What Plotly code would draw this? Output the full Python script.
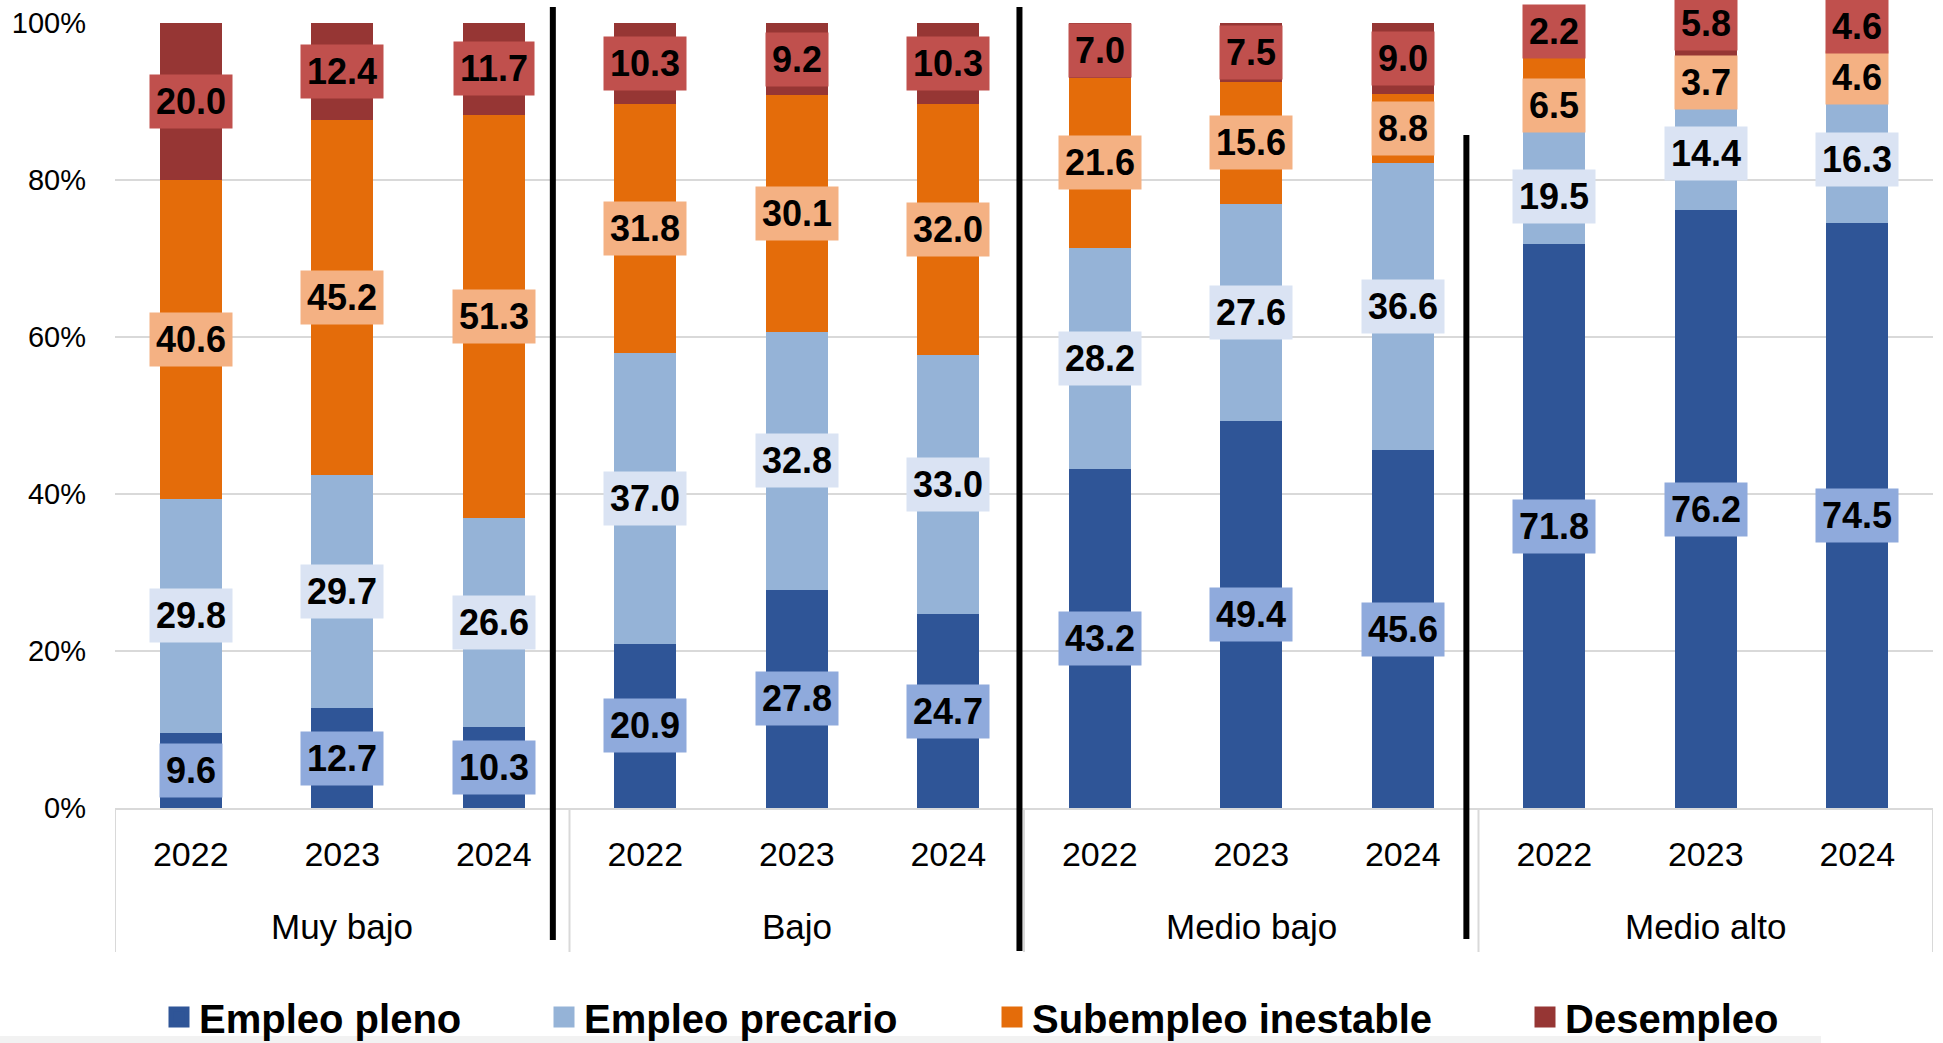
import plotly.graph_objects as go

# ---------------- data ----------------
groups = ["Muy bajo", "Bajo", "Medio bajo", "Medio alto"]
years = ["2022", "2023", "2024"]
series_names = ["Empleo pleno", "Empleo precario", "Subempleo inestable", "Desempleo"]
empleo_pleno = [9.6, 12.7, 10.3, 20.9, 27.8, 24.7, 43.2, 49.4, 45.6, 71.8, 76.2, 74.5]
empleo_precario = [29.8, 29.7, 26.6, 37.0, 32.8, 33.0, 28.2, 27.6, 36.6, 19.5, 14.4, 16.3]
subempleo_inestable = [40.6, 45.2, 51.3, 31.8, 30.1, 32.0, 21.6, 15.6, 8.8, 6.5, 3.7, 4.6]
desempleo = [20.0, 12.4, 11.7, 10.3, 9.2, 10.3, 7.0, 7.5, 9.0, 2.2, 5.8, 4.6]
y_tick_values = [0, 20, 40, 60, 80, 100]
y_tick_labels = ["0%", "20%", "40%", "60%", "80%", "100%"]

# ---------------- styles ----------------
series_values = [empleo_pleno, empleo_precario, subempleo_inestable, desempleo]
bar_colors = ["#2F5597", "#95B3D7", "#E46C0A", "#963634"]
label_bg = ["#8FAADC", "#DAE3F3", "#F4B183", "#C0504D"]
FONT = "Liberation Sans, Arial, sans-serif"

# manual label nudges (in percentage points), as placed in the original
label_nudge = {(2, 9): -5.1, (1, 9): -3.6, (3, 10): 2.8, (3, 11): 1.9}

W, H = 1943, 1043
ML, MR, MT, MB = 115, 10, 23, 235
PW, PH = W - ML - MR, H - MT - MB
y_bottom_px = H - MB


def py(px):
    """pixel y -> paper y"""
    return (y_bottom_px - px) / PH


def px_x(px):
    """pixel x -> paper x"""
    return (px - ML) / PW


keys = [f"{g}|{y}" for g in groups for y in years]
n_bars = len(keys)

fig = go.Figure()
for s, (name, vals) in enumerate(zip(series_names, series_values)):
    fig.add_trace(go.Bar(
        x=keys, y=vals, name=name,
        marker=dict(color=bar_colors[s], line=dict(width=0)),
        showlegend=False, hoverinfo="skip",
    ))

# legend swatches (separate legends to place items like the original)
legend_px = [159, 544, 992, 1525]
for s, name in enumerate(series_names):
    lg = "legend" if s == 0 else f"legend{s + 1}"
    fig.add_trace(go.Scatter(
        x=[None], y=[None], mode="markers", name=name,
        marker=dict(symbol="square", size=16, color=bar_colors[s],
                    line=dict(width=5, color=bar_colors[s])),
        legend=lg, showlegend=True,
    ))

annotations = []
# data labels at segment centres
totals = [sum(series_values[s][i] for s in range(4)) for i in range(n_bars)]
for i in range(n_bars):
    cum = 0.0
    for s in range(4):
        v = series_values[s][i]
        centre = (cum + v / 2) / totals[i] * 100 + label_nudge.get((s, i), 0)
        cum += v
        annotations.append(dict(
            x=keys[i], y=min(centre, 99.9), xref="x", yref="y",
            text=f"{v:.1f}", showarrow=False,
            font=dict(family=FONT, size=36, color="black", weight="bold"),
            bgcolor=label_bg[s], borderpad=6,
        ))

# group labels
for g_i, g in enumerate(groups):
    annotations.append(dict(
        x=keys[g_i * 3 + 1], y=py(926), xref="x", yref="paper",
        text=g, showarrow=False, yanchor="middle",
        font=dict(family=FONT, size=35, color="black"),
    ))

shapes = []
# gray dividers of the category axis
for b in range(len(groups) + 1):
    xpos = b * 3 - 0.5
    shapes.append(dict(type="line", xref="x", yref="paper",
                       x0=xpos, x1=xpos, y0=0, y1=py(952),
                       line=dict(color="#D9D9D9", width=2)))
# black separators
seps = [(2.39, 7, 940), (5.47, 7, 951), (8.42, 135, 939)]
for xpos, top, bot in seps:
    shapes.append(dict(type="line", xref="x", yref="paper",
                       x0=xpos, x1=xpos, y0=py(top), y1=py(bot),
                       line=dict(color="black", width=6)))
# light band at the bottom
shapes.append(dict(type="rect", xref="paper", yref="paper",
                   x0=px_x(0), x1=px_x(1821), y0=py(1036), y1=py(1050),
                   fillcolor="#F2F2F2", line=dict(width=0), layer="below"))

legend_common = dict(
    orientation="h", yref="container", y=1 - 1017 / H, yanchor="middle",
    xref="container", xanchor="left", itemsizing="trace",
    bgcolor="rgba(0,0,0,0)",
    font=dict(family=FONT, size=40, color="black", weight="bold"),
    itemclick=False, itemdoubleclick=False,
)
layout_legends = {}
for s in range(4):
    lg = "legend" if s == 0 else f"legend{s + 1}"
    layout_legends[lg] = dict(legend_common, x=legend_px[s] / W)

fig.update_layout(
    width=W, height=H,
    margin=dict(l=ML, r=MR, t=MT, b=MB, autoexpand=False),
    barmode="stack", barnorm="percent", bargap=0.59,
    plot_bgcolor="white", paper_bgcolor="white",
    font=dict(family=FONT, color="black"),
    xaxis=dict(
        type="category", categoryorder="array", categoryarray=keys,
        tickvals=keys, ticktext=[k.split("|")[1] for k in keys],
        range=[-0.5, n_bars - 0.5],
        showgrid=False, showline=True, linecolor="#D9D9D9", linewidth=2,
        ticks="", tickfont=dict(family=FONT, size=34, color="black"),
        ticklabelstandoff=15, fixedrange=True,
    ),
    yaxis=dict(
        range=[0, 100], tickvals=y_tick_values, ticktext=y_tick_labels,
        showgrid=True, gridcolor="#D9D9D9", gridwidth=2,
        zeroline=False, showline=False, ticks="",
        tickfont=dict(family=FONT, size=29, color="black"),
        ticklabelstandoff=28, fixedrange=True,
    ),
    annotations=annotations,
    shapes=shapes,
    **layout_legends,
)

fig.write_html("out.html", post_script="document.body.style.margin='0';",
               config={"displayModeBar": False})
